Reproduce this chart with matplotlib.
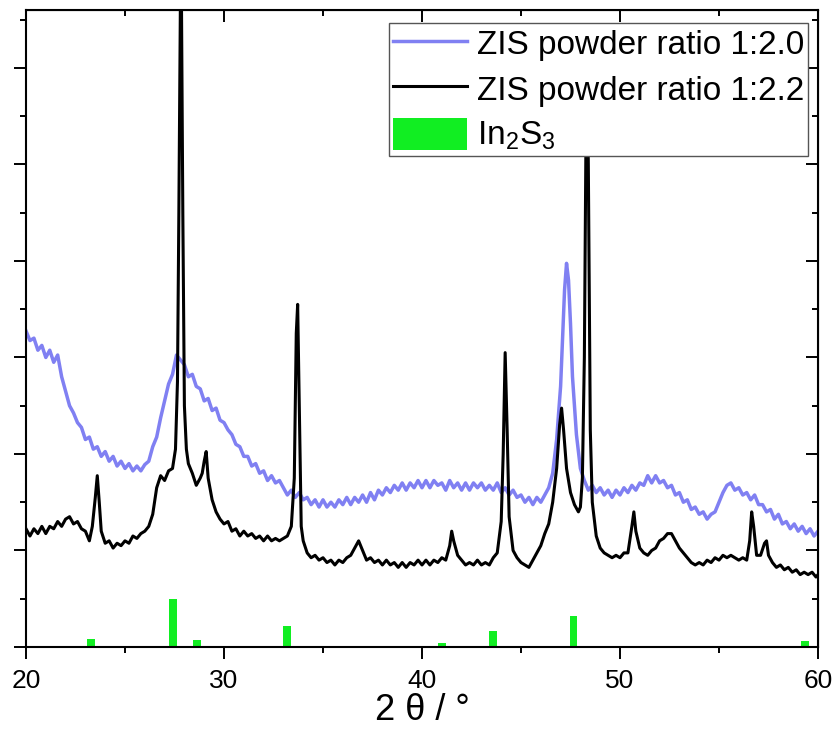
import matplotlib
matplotlib.use("Agg")
import matplotlib.pyplot as plt
from matplotlib.ticker import MultipleLocator, NullFormatter
from matplotlib.patches import Patch
from matplotlib.lines import Line2D

plt.rcParams['font.family'] = ['Liberation Sans', 'DejaVu Sans']
plt.rcParams['mathtext.fontset'] = 'custom'
plt.rcParams['mathtext.rm'] = 'Liberation Sans'
plt.rcParams['mathtext.it'] = 'Liberation Sans:italic'

# ---- data: ZIS powder ratio 1:2.0 (blue) ----
blue_2theta = [
    20.0, 20.2, 20.4, 20.6, 20.8, 21.0, 21.2, 21.4, 21.6, 21.8,
    22.0, 22.2, 22.4, 22.6, 22.8, 23.0, 23.2, 23.4, 23.6, 23.8,
    24.0, 24.2, 24.4, 24.6, 24.8, 25.0, 25.2, 25.4, 25.6, 25.8,
    26.0, 26.2, 26.4, 26.6, 26.8, 27.0, 27.2, 27.4, 27.6, 27.8,
    28.0, 28.2, 28.4, 28.6, 28.8, 29.0, 29.2, 29.4, 29.6, 29.8,
    30.0, 30.2, 30.4, 30.6, 30.8, 31.0, 31.2, 31.4, 31.6, 31.8,
    32.0, 32.2, 32.4, 32.6, 32.8, 33.0, 33.2, 33.4, 33.6, 33.8,
    34.0, 34.2, 34.4, 34.6, 34.8, 35.0, 35.2, 35.4, 35.6, 35.8,
    36.0, 36.2, 36.4, 36.6, 36.8, 37.0, 37.2, 37.4, 37.6, 37.8,
    38.0, 38.2, 38.4, 38.6, 38.8, 39.0, 39.2, 39.4, 39.6, 39.8,
    40.0, 40.2, 40.4, 40.6, 40.8, 41.0, 41.2, 41.4, 41.6, 41.8,
    42.0, 42.2, 42.4, 42.6, 42.8, 43.0, 43.2, 43.4, 43.6, 43.8,
    44.0, 44.2, 44.4, 44.6, 44.8, 45.0, 45.2, 45.4, 45.6, 45.8,
    46.0, 46.2, 46.4, 46.6, 46.8, 47.0, 47.1, 47.2, 47.3, 47.4,
    47.5, 47.6, 47.8, 48.0, 48.2, 48.4, 48.6, 48.8, 49.0, 49.2,
    49.4, 49.6, 49.8, 50.0, 50.2, 50.4, 50.6, 50.8, 51.0, 51.2,
    51.4, 51.6, 51.8, 52.0, 52.2, 52.4, 52.6, 52.8, 53.0, 53.2,
    53.4, 53.6, 53.8, 54.0, 54.2, 54.4, 54.6, 54.8, 55.0, 55.2,
    55.4, 55.6, 55.8, 56.0, 56.2, 56.4, 56.6, 56.8, 57.0, 57.2,
    57.4, 57.6, 57.8, 58.0, 58.2, 58.4, 58.6, 58.8, 59.0, 59.2,
    59.4, 59.6, 59.8, 60.0,
]
blue_intensity = [
    6.55, 6.35, 6.40, 6.15, 6.25, 6.00, 6.15, 5.90, 6.05, 5.60,
    5.30, 5.00, 4.85, 4.65, 4.55, 4.30, 4.35, 4.10, 4.15, 3.95,
    4.05, 3.85, 3.95, 3.75, 3.85, 3.70, 3.80, 3.65, 3.75, 3.65,
    3.78, 3.85, 4.15, 4.35, 4.75, 5.10, 5.45, 5.65, 6.05, 5.95,
    5.85, 5.60, 5.65, 5.40, 5.35, 5.10, 5.15, 4.90, 4.95, 4.70,
    4.65, 4.50, 4.40, 4.20, 4.15, 3.95, 3.95, 3.75, 3.80, 3.60,
    3.65, 3.45, 3.55, 3.40, 3.45, 3.30, 3.15, 3.25, 3.10, 3.20,
    3.05, 3.10, 2.95, 3.05, 2.90, 3.05, 2.90, 3.00, 2.90, 3.05,
    2.95, 3.10, 2.95, 3.10, 3.00, 3.15, 3.00, 3.20, 3.05, 3.25,
    3.15, 3.30, 3.20, 3.35, 3.25, 3.40, 3.25, 3.40, 3.30, 3.45,
    3.30, 3.45, 3.30, 3.45, 3.35, 3.40, 3.25, 3.45, 3.30, 3.40,
    3.25, 3.40, 3.25, 3.40, 3.30, 3.40, 3.25, 3.35, 3.25, 3.40,
    3.20, 3.30, 3.15, 3.25, 3.10, 3.15, 3.00, 3.10, 2.95, 3.10,
    3.00, 3.15, 3.30, 3.60, 4.30, 5.40, 6.40, 7.40, 7.95, 7.60,
    6.70, 5.60, 4.40, 3.70, 3.45, 3.25, 3.35, 3.20, 3.30, 3.15,
    3.25, 3.10, 3.25, 3.15, 3.30, 3.20, 3.35, 3.25, 3.40, 3.35,
    3.55, 3.40, 3.55, 3.40, 3.45, 3.30, 3.35, 3.15, 3.20, 3.00,
    3.05, 2.85, 2.90, 2.75, 2.80, 2.65, 2.75, 2.80, 3.00, 3.20,
    3.35, 3.40, 3.25, 3.30, 3.15, 3.20, 3.05, 3.15, 2.95, 2.95,
    2.80, 2.85, 2.65, 2.75, 2.55, 2.60, 2.45, 2.55, 2.40, 2.50,
    2.35, 2.45, 2.30, 2.40,
]

# ---- data: ZIS powder ratio 1:2.2 (black) ----
black_2theta = [
    20.0, 20.2, 20.4, 20.6, 20.8, 21.0, 21.2, 21.4, 21.6, 21.8,
    22.0, 22.2, 22.4, 22.6, 22.8, 23.0, 23.2, 23.35, 23.5, 23.6, 23.7, 23.8,
    24.0, 24.2, 24.4, 24.6, 24.8, 25.0, 25.2, 25.4, 25.6, 25.8,
    26.0, 26.2, 26.4, 26.6, 26.8, 27.0, 27.2, 27.4, 27.55, 27.65, 27.72, 27.8, 27.85, 27.92, 28.0, 28.1,
    28.2, 28.4, 28.6, 28.8, 28.9, 29.0, 29.1, 29.2, 29.4, 29.6, 29.8,
    30.0, 30.2, 30.4, 30.6, 30.8, 31.0, 31.2, 31.4, 31.6, 31.8,
    32.0, 32.2, 32.4, 32.6, 32.8, 33.0, 33.2, 33.4, 33.55, 33.65, 33.72, 33.8, 33.9, 34.0,
    34.2, 34.4, 34.6, 34.8, 35.0, 35.2, 35.4, 35.6, 35.8, 36.0,
    36.2, 36.4, 36.6, 36.8, 37.0, 37.2, 37.4, 37.6, 37.8, 38.0,
    38.2, 38.4, 38.6, 38.8, 39.0, 39.2, 39.4, 39.6, 39.8, 40.0,
    40.2, 40.4, 40.6, 40.8, 41.0, 41.2, 41.4, 41.5, 41.6, 41.8, 42.0,
    42.2, 42.4, 42.6, 42.8, 43.0, 43.2, 43.4, 43.6, 43.8, 44.0, 44.1, 44.2, 44.3, 44.4, 44.6,
    44.8, 45.0, 45.2, 45.4, 45.6, 45.8, 46.0, 46.2, 46.4, 46.6, 46.8, 46.95, 47.05, 47.15, 47.3,
    47.5, 47.7, 47.9, 48.0, 48.1, 48.2, 48.28, 48.33, 48.4, 48.5, 48.6, 48.8,
    49.0, 49.2, 49.4, 49.6, 49.8, 50.0, 50.2, 50.4, 50.6, 50.7, 50.8, 51.0,
    51.2, 51.4, 51.6, 51.8, 52.0, 52.2, 52.4, 52.6, 52.8, 53.0,
    53.2, 53.4, 53.6, 53.8, 54.0, 54.2, 54.4, 54.6, 54.8, 55.0,
    55.2, 55.4, 55.6, 55.8, 56.0, 56.2, 56.4, 56.55, 56.65, 56.75, 56.9,
    57.1, 57.3, 57.4, 57.5, 57.7, 57.9, 58.1, 58.3, 58.5, 58.7,
    58.9, 59.1, 59.3, 59.5, 59.7, 59.9, 60.0,
]
black_intensity = [
    2.45, 2.30, 2.45, 2.35, 2.50, 2.35, 2.50, 2.45, 2.60, 2.50,
    2.65, 2.70, 2.55, 2.60, 2.45, 2.40, 2.20, 2.50, 3.10, 3.55, 3.00, 2.40,
    2.15, 2.20, 2.05, 2.15, 2.10, 2.20, 2.15, 2.30, 2.25, 2.35,
    2.40, 2.50, 2.75, 3.30, 3.55, 3.45, 3.65, 3.70, 4.10, 5.50, 9.00, 13.5, 13.5, 9.00, 5.00, 4.10,
    3.80, 3.60, 3.35, 3.50, 3.60, 3.85, 4.05, 3.50, 3.05, 2.80, 2.65,
    2.55, 2.60, 2.40, 2.45, 2.30, 2.40, 2.30, 2.35, 2.25, 2.30,
    2.20, 2.30, 2.20, 2.25, 2.20, 2.25, 2.30, 2.50, 3.50, 6.50, 7.10, 5.00, 2.50, 2.20,
    1.95, 1.85, 1.90, 1.80, 1.85, 1.75, 1.80, 1.70, 1.80, 1.75,
    1.85, 1.90, 2.05, 2.20, 2.00, 1.80, 1.85, 1.75, 1.80, 1.70,
    1.80, 1.70, 1.75, 1.65, 1.75, 1.65, 1.75, 1.70, 1.80, 1.70,
    1.80, 1.70, 1.80, 1.75, 1.85, 1.80, 2.10, 2.40, 2.20, 1.90, 1.80,
    1.70, 1.75, 1.70, 1.80, 1.70, 1.75, 1.70, 1.85, 1.95, 2.60, 4.00, 6.10, 4.50, 2.70, 2.00,
    1.85, 1.75, 1.70, 1.65, 1.80, 1.95, 2.10, 2.35, 2.55, 3.00, 3.70, 4.60, 4.95, 4.50, 3.70,
    3.20, 2.95, 2.80, 2.90, 3.50, 6.00, 10.5, 12.5, 10.0, 4.50, 3.00, 2.30,
    2.05, 1.95, 1.90, 1.85, 1.90, 1.85, 1.95, 1.95, 2.50, 2.80, 2.40, 2.05,
    1.95, 1.90, 2.00, 2.05, 2.20, 2.25, 2.35, 2.35, 2.20, 2.05,
    1.95, 1.85, 1.75, 1.70, 1.75, 1.70, 1.80, 1.75, 1.85, 1.80,
    1.90, 1.85, 1.90, 1.85, 1.80, 1.85, 1.80, 2.20, 2.80, 2.50, 1.90,
    1.90, 2.15, 2.20, 1.90, 1.75, 1.65, 1.70, 1.60, 1.65, 1.55,
    1.60, 1.50, 1.55, 1.50, 1.55, 1.45, 1.50,
]

# ---- data: In2S3 reference reflections ----
ref_2theta = [23.3, 27.42, 28.65, 33.2, 41.0, 43.6, 47.65, 59.35]
ref_intensity = [0.17, 1.00, 0.15, 0.43, 0.08, 0.34, 0.64, 0.12]

labels = ['ZIS powder ratio 1:2.0', 'ZIS powder ratio 1:2.2',
          r'In$_\mathregular{2}$S$_\mathregular{3}$']
blue_color = '#8080f2'
green_color = '#11ee22'

fig = plt.figure(figsize=(8.35, 7.36), dpi=100)
ax = fig.add_axes([26/835, 1 - 647/736, 792/835, 637/736])

ax.bar(ref_2theta, ref_intensity, width=0.4, color=green_color, zorder=1)
ax.plot(blue_2theta, blue_intensity, color=blue_color, lw=2.5, zorder=2)
ax.plot(black_2theta, black_intensity, color='black', lw=2.2, zorder=3)

ax.set_xlim(20, 60)
ax.set_ylim(0, 13.2)

ax.xaxis.set_major_locator(MultipleLocator(10))
ax.xaxis.set_minor_locator(MultipleLocator(5))
ax.yaxis.set_major_locator(MultipleLocator(2))
ax.yaxis.set_minor_locator(MultipleLocator(1))
ax.yaxis.set_major_formatter(NullFormatter())

for s in ax.spines.values():
    s.set_linewidth(1.5)

ax.tick_params(axis='both', which='both', direction='out', width=1.4,
               top=False, right=False)
ax.tick_params(axis='both', which='major', length=8.5)
ax.tick_params(axis='both', which='minor', length=4.5)
ax.tick_params(axis='x', labelsize=19, pad=7)

secx = ax.secondary_xaxis('top')
secx.xaxis.set_major_locator(MultipleLocator(10))
secx.xaxis.set_minor_locator(MultipleLocator(5))
secx.tick_params(which='both', direction='in', width=1.4, labeltop=False)
secx.tick_params(which='major', length=8.5)
secx.tick_params(which='minor', length=4.5)

secy = ax.secondary_yaxis('right')
secy.yaxis.set_major_locator(MultipleLocator(2))
secy.yaxis.set_minor_locator(MultipleLocator(1))
secy.tick_params(which='both', direction='in', width=1.4, labelright=False)
secy.tick_params(which='major', length=8.5)
secy.tick_params(which='minor', length=4.5)

ax.set_xlabel('2 θ / °', fontsize=26, labelpad=0)

handles = [Line2D([], [], color=blue_color, lw=2.5),
           Line2D([], [], color='black', lw=2.2),
           Patch(facecolor=green_color, edgecolor='none')]
leg = ax.legend(handles, labels, loc='upper right',
                bbox_to_anchor=(0.9874, 0.9796), borderaxespad=0,
                fontsize=24, handlelength=2.2, handleheight=1.1,
                handletextpad=0.3, labelspacing=0.33, borderpad=0.12,
                fancybox=False, framealpha=1, edgecolor='#555555')
leg.get_frame().set_linewidth(1.0)
leg.set_zorder(10)

fig.savefig('out.png', dpi=100)
